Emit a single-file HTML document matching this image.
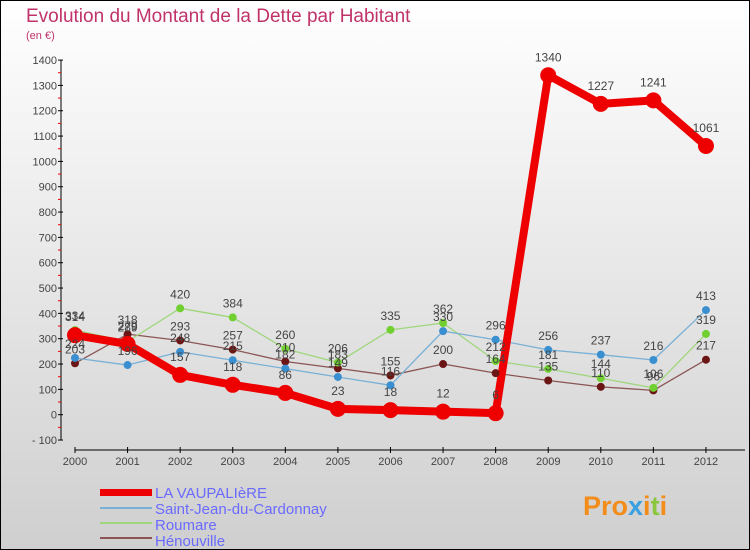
<!DOCTYPE html>
<html><head><meta charset="utf-8"><style>
html,body{margin:0;padding:0;width:750px;height:550px;overflow:hidden}
svg{display:block;font-family:"Liberation Sans",sans-serif}
</style></head><body>
<svg id="s" width="750" height="550" viewBox="0 0 750 550" xmlns="http://www.w3.org/2000/svg">
<defs><linearGradient id="bg" x1="0" y1="0" x2="0" y2="1"><stop offset="0" stop-color="#ffffff"/><stop offset="1" stop-color="#cfcfcf"/></linearGradient></defs>
<rect x="0.5" y="0.5" width="749" height="549" fill="url(#bg)" stroke="#000"/>
<text x="26" y="22" font-size="19" fill="#c0336a" font-weight="300">Evolution du Montant de la Dette par Habitant</text>
<text x="26" y="39" font-size="11" fill="#c0336a">(en €)</text>
<g id="axes"></g>
<g id="series"></g>
<g font-size="15" fill="#6a6aff">
<rect x="100" y="489" width="52" height="7" fill="#e00"/>
<line x1="100" y1="508" x2="152" y2="508" stroke="#79b0d6" stroke-width="2"/>
<line x1="100" y1="523" x2="152" y2="523" stroke="#9fd67c" stroke-width="2"/>
<line x1="100" y1="538" x2="152" y2="538" stroke="#8b5555" stroke-width="2"/>
<text x="155" y="498">LA VAUPALIèRE</text>
<text x="155" y="514">Saint-Jean-du-Cardonnay</text>
<text x="155" y="530">Roumare</text>
<text x="155" y="546">Hénouville</text>
</g>
<text x="583" y="515" font-size="27" font-weight="bold" fill="#f28c1a">Pro<tspan fill="#3aa0e0">x</tspan>i<tspan fill="#8cc63e">t</tspan>i</text>
</svg>
<script>
var NS="http://www.w3.org/2000/svg";
function el(p,t,a,txt){var e=document.createElementNS(NS,t);for(var k in a)e.setAttribute(k,a[k]);if(txt!==undefined)e.textContent=txt;p.appendChild(e);return e;}
function Y(v){return 414.7-0.2533*v;}
function X(i){return 75+52.58*i;}
var ax=document.getElementById("axes");
el(ax,"line",{x1:61,y1:60,x2:61,y2:440,stroke:"#000","stroke-width":1});
for(var v=-100;v<=1400;v+=100){var y=Y(v);el(ax,"line",{x1:58,y1:y,x2:63,y2:y,stroke:"#000"});
el(ax,"text",{x:57,y:y+4,"font-size":11,fill:"#444","text-anchor":"end"},String(v).replace("-","- "));
if(v<1400)el(ax,"line",{x1:58,y1:Y(v+50),x2:61,y2:Y(v+50),stroke:"#e00"});}
el(ax,"line",{x1:75,y1:450,x2:745,y2:450,stroke:"#000"});
for(var i=0;i<13;i++){el(ax,"line",{x1:X(i),y1:447,x2:X(i),y2:453,stroke:"#000"});
el(ax,"text",{x:X(i),y:465,"font-size":11,fill:"#444","text-anchor":"middle"},2000+i);}
var S=[
{c:"#8b5555",m:"#6b1515",w:1.3,r:4,d:[203,318,293,257,210,183,155,200,164,135,110,96,217]},
{c:"#9fd67c",m:"#6fd030",w:1.3,r:4,d:[334,289,420,384,260,206,335,362,212,181,144,106,319]},
{c:"#79b0d6",m:"#3a8fd0",w:1.3,r:4,d:[224,196,248,215,182,149,116,330,296,256,237,216,413]},
{c:"#ee0000",m:"#ee0000",w:8,r:8,d:[314,279,157,118,86,23,18,12,6,1340,1227,1241,1061]}];
var g=document.getElementById("series");
S.forEach(function(s){var pts=s.d.map(function(v,i){return X(i)+","+Y(v);}).join(" ");
el(g,"polyline",{points:pts,fill:"none",stroke:s.c,"stroke-width":s.w,"stroke-linejoin":"round"});});
S.forEach(function(s){s.d.forEach(function(v,i){el(g,"circle",{cx:X(i),cy:Y(v),r:s.r,fill:s.m});});});
S.forEach(function(s){s.d.forEach(function(v,i){var dy=s.r==8?-14:-10;
el(g,"text",{x:X(i),y:Y(v)+dy,"font-size":12,fill:"#444","text-anchor":"middle"},v);});});
</script>
</body></html>
